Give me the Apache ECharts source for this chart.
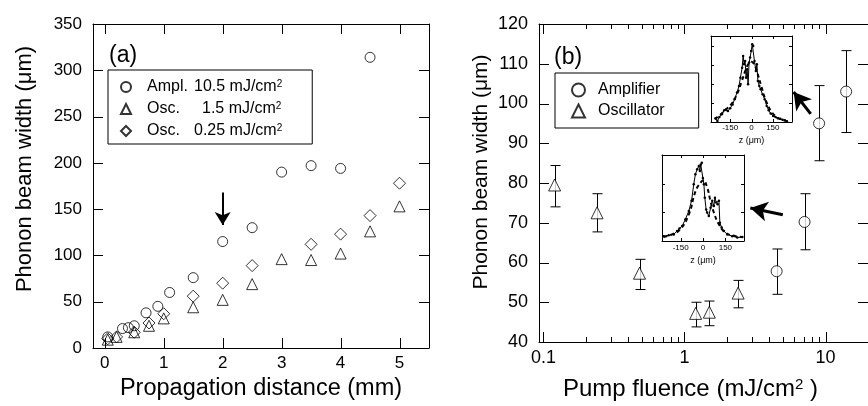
<!DOCTYPE html>
<html><head><meta charset="utf-8">
<script src="https://cdn.jsdelivr.net/npm/echarts@6/dist/echarts.min.js"></script>
<style>html,body{margin:0;padding:0;background:#fff}#c{width:868px;height:406px}</style>
</head><body><div id="c"></div>
<script>
// ---------- Panel (a) data ----------
const ampX = [0.05,0.3,0.4,0.5,0.7,0.9,1.1,1.5,2,2.5,3,3.5,4,4.5];
const ampY = [12,21,22,24,38,45,60,76,115,130,190,197,194,314];
const osc15X = [0.05,0.2,0.5,0.75,1,1.5,2,2.5,3,3.5,4,4.5,5];
const osc15Y = [9,12,17,24,32,44,52,69,96,95,102,126,153];
const osc025X = [0.05,0.2,0.5,0.75,1,1.5,2,2.5,3.5,4,4.5,5];
const osc025Y = [10,12,17,27,37,56,70,89,112,123,143,178];
const aXTicks = [0,1,2,3,4,5];
const aYTicks = [50,100,150,200,250,300];
const arrowA = [2, 168, 133];

// ---------- Panel (b) data ----------
const oscF  = [0.12,0.24,0.48,1.2,1.5,2.4];
const oscW  = [79.5,72.5,57.3,47.2,47.5,52.3];
const oscLo = [74,67.7,53.2,43.8,44.1,48.6];
const oscHi = [84.4,77.3,60.8,50,50.3,55.5];
const ampF  = [4.5,7.1,9,14];
const ampW  = [57.8,70.2,95,103];
const ampLo = [52,63.2,85.6,92.7];
const ampHi = [63.4,77.3,104.5,113.3];
const bMajor = [0.1,1,10];
const bMinor = [0.2,0.3,0.4,0.5,0.6,0.7,0.8,0.9,2,3,4,5,6,7,8,9];
const bYTicks = [50,60,70,80,90,100,110];
const arrowB1 = [[7.85,97.4],[5.94,102.9]];
const arrowB2 = [[4.98,72.0],[2.93,73.7]];

// ---------- Inset 1 (upper) ----------
const in1X = [-252,-240,-226,-209,-192,-180,-166,-150,-133,-119,-102,-88,-78,-66,-59,-52,-45,-38,-31,-24,-17,-10,-2,5,12,21,31,38,45,55,64,78,93,107,121,135,152,169,185,202,218,235,249];
const in1Y = [0.19,0.05,0.26,0.40,0.61,0.65,0.58,0.72,0.92,1.19,1.54,1.88,2.32,2.84,3.46,3.02,3.19,2.32,2.76,1.97,3.11,3.37,3.72,4.07,3.98,3.19,2.67,3.02,2.15,1.88,1.71,1.45,1.19,0.84,0.61,0.44,0.31,0.26,0.19,0.17,0.12,0.09,0.03];
const fit1X = [-260,-220,-180,-140,-100,-70,-40,-20,0,20,40,70,100,140,180,220,260];
const fit1Y = [0.15,0.38,0.65,0.95,1.5,2.1,2.75,3.05,3.15,3.0,2.6,1.85,1.15,0.55,0.25,0.1,0.05];
const in1YTicks = [1,2,3,4];

// ---------- Inset 2 (lower) ----------
const in2X = [-264,-230,-196,-174,-158,-140,-118,-95,-77,-62,-51,-39,-28,-21,-15,-8,-1,6,12,21,28,39,51,62,73,80,89,98,107,113,125,140,163,196,230,264];
const in2Y = [0.17,0.2,0.23,0.35,0.44,0.52,0.76,1.05,1.40,1.98,2.33,2.5,2.62,2.44,2.67,2.73,2.2,1.98,1.51,1.1,0.99,0.87,1.16,1.40,1.22,1.51,1.34,1.28,1.40,0.64,0.47,0.35,0.23,0.17,0.12,0.14];
const fit2X = [-264,-208,-152,-95,-50,-17,1,28,50,73,107,152,219,268];
const fit2Y = [0.14,0.23,0.41,0.93,1.74,2.03,2.12,1.86,1.40,0.99,0.58,0.29,0.17,0.14];
const in2YTicks = [1,2];
const insetTicks = [-150,0,150];

const FONT = 'Liberation Sans, Arial, Helvetica, sans-serif';
const zip = (a,b) => a.map((v,i)=>[v,b[i]]);

const legendNamesA = {
  amp: '{n|Ampl.}10.5 mJ/cm{s|2}',
  osc15: '{m|Osc.}1.5 mJ/cm{s|2}',
  osc025: '{n|Osc.}0.25 mJ/cm{s|2}'
};

function frameAxis(base) {
  return Object.assign({
    axisLine:{show:true,onZero:false,lineStyle:{color:'#000',width:1}},
    axisTick:{show:false},
    splitLine:{show:false}
  }, base);
}

const xAxes = [
  frameAxis({type:'value',gridIndex:0,min:-0.2,max:5.5,position:'bottom',
    axisLabel:{customValues:aXTicks,margin:7,fontSize:17,color:'#000',fontFamily:FONT},
    name:'Propagation distance (mm)',nameLocation:'middle',nameGap:28,
    nameTextStyle:{fontSize:23.5,color:'#000',fontFamily:FONT}}),
  frameAxis({type:'value',gridIndex:0,min:-0.2,max:5.5,position:'top',axisLabel:{show:false}}),
  frameAxis({type:'log',gridIndex:1,min:0.093,max:20,position:'bottom',
    axisLabel:{customValues:bMajor,margin:7,fontSize:18,color:'#000',fontFamily:FONT,
      formatter:v=>String(+v.toPrecision(3))},
    name:'Pump fluence (mJ/cm{s|2} )',nameLocation:'middle',nameGap:35,
    nameTextStyle:{fontSize:24,color:'#000',fontFamily:FONT,padding:[0,26,0,0],
      rich:{s:{fontSize:15,verticalAlign:'top',lineHeight:13,color:'#000',fontFamily:FONT}}}}),
  frameAxis({type:'log',gridIndex:1,min:0.093,max:20,position:'top',axisLabel:{show:false}}),
  frameAxis({type:'value',gridIndex:2,min:-285,max:285,position:'bottom',
    axisLabel:{customValues:insetTicks,margin:2,fontSize:8,color:'#000',fontFamily:FONT},
    name:'z (\u03bcm)',nameLocation:'middle',nameGap:14,
    nameTextStyle:{fontSize:9,color:'#000',fontFamily:FONT}}),
  frameAxis({type:'value',gridIndex:2,min:-285,max:285,position:'top',axisLabel:{show:false}}),
  frameAxis({type:'value',gridIndex:3,min:-275,max:275,position:'bottom',
    axisLabel:{customValues:insetTicks,margin:3,fontSize:8,color:'#000',fontFamily:FONT},
    name:'z (\u03bcm)',nameLocation:'middle',nameGap:15,
    nameTextStyle:{fontSize:9,color:'#000',fontFamily:FONT}}),
  frameAxis({type:'value',gridIndex:3,min:-275,max:275,position:'top',axisLabel:{show:false}})
];

const yAxes = [
  frameAxis({type:'value',gridIndex:0,min:0,max:350,interval:50,position:'left',
    axisLabel:{margin:11,fontSize:17,color:'#000',fontFamily:FONT},
    name:'Phonon beam width (\u03bcm)',nameLocation:'middle',nameGap:57,
    nameTextStyle:{fontSize:22,color:'#000',fontFamily:FONT,padding:[0,0,0,34]}}),
  frameAxis({type:'value',gridIndex:0,min:0,max:350,interval:50,position:'right',axisLabel:{show:false}}),
  frameAxis({type:'value',gridIndex:1,min:40,max:120,interval:10,position:'left',
    axisLabel:{margin:11,fontSize:18,color:'#000',fontFamily:FONT},
    name:'Phonon beam width (\u03bcm)',nameLocation:'middle',nameGap:47,
    nameTextStyle:{fontSize:21,color:'#000',fontFamily:FONT,padding:[0,0,0,22]}}),
  frameAxis({type:'value',gridIndex:1,min:40,max:120,interval:10,position:'right',axisLabel:{show:false}}),
  frameAxis({type:'value',gridIndex:2,min:0,max:4.5,interval:1,position:'left',axisLabel:{show:false}}),
  frameAxis({type:'value',gridIndex:2,min:0,max:4.5,interval:1,position:'right',axisLabel:{show:false}}),
  frameAxis({type:'value',gridIndex:3,min:0,max:3,interval:1,position:'left',axisLabel:{show:false}}),
  frameAxis({type:'value',gridIndex:3,min:0,max:3,interval:1,position:'right',axisLabel:{show:false}})
];

const hollow = {color:'transparent',borderColor:'#000',borderWidth:1};
const whiteFill = {color:'#fff',borderColor:'#000',borderWidth:1};

function errorBar(f, lo, hi) {
  return {
    type:'custom', xAxisIndex:2, yAxisIndex:2, z:1, silent:true,
    data: f.map((v,i)=>[v, lo[i], hi[i]]),
    encode:{x:0,y:[1,2]},
    renderItem:(params, api) => {
      const x = Math.round(api.coord([api.value(0), 80])[0]) + 0.5;
      const y1 = api.coord([api.value(0), api.value(1)])[1];
      const y2 = api.coord([api.value(0), api.value(2)])[1];
      const hw = 5;
      const st = {stroke:'#000',lineWidth:1};
      return {type:'group',children:[
        {type:'line',shape:{x1:x,y1:y1,x2:x,y2:y2},style:st},
        {type:'line',shape:{x1:x-hw,y1:y1,x2:x+hw,y2:y1},style:st},
        {type:'line',shape:{x1:x-hw,y1:y2,x2:x+hw,y2:y2},style:st}
      ]};
    }
  };
}

const arrowLine = (pairs, w, size) => ({
  silent:true, symbol:['none','arrow'], symbolSize:size,
  label:{show:false}, emphasis:{disabled:true},
  lineStyle:{color:'#000',width:w,type:'solid'},
  itemStyle:{color:'#000'},
  data: pairs.map(p => [{coord:p[0]},{coord:p[1]}])
});

const option = {
  animation:false,
  backgroundColor:'#fff',
  title:[
    {text:'(a)',left:109,top:44,textStyle:{fontSize:23,fontWeight:'normal',color:'#000',fontFamily:FONT},padding:0},
    {text:'(b)',left:554,top:46,textStyle:{fontSize:23,fontWeight:'normal',color:'#000',fontFamily:FONT},padding:0}
  ],
  grid:[
    {left:93,top:24,width:336,height:324},
    {left:539,top:24,width:336,height:323},
    {left:711,top:36,width:81,height:86},
    {left:662,top:155,width:82,height:86}
  ],
  legend:[
    {left:108,top:70,orient:'vertical',data:['amp','osc15','osc025'],
      borderColor:'#000',borderWidth:1,padding:[9,30,5,12],itemGap:6,
      itemWidth:10,itemHeight:10,selectedMode:false,
      formatter:n=>legendNamesA[n],
      textStyle:{fontSize:16,lineHeight:16,color:'#000',fontFamily:FONT,padding:[0,0,0,11],
        rich:{n:{width:47,fontSize:16,lineHeight:16,color:'#000',fontFamily:FONT},
              m:{width:55,fontSize:16,lineHeight:16,color:'#000',fontFamily:FONT},
              s:{fontSize:10,lineHeight:10,verticalAlign:'top',color:'#000',fontFamily:FONT}}}},
    {left:555,top:73,orient:'vertical',data:['Amplifier','Oscillator'],
      borderColor:'#000',borderWidth:1,padding:[9,34,9,16],itemGap:5,
      itemWidth:13,itemHeight:13,selectedMode:false,
      textStyle:{fontSize:16,lineHeight:16,color:'#000',fontFamily:FONT,padding:[0,0,0,8]}}
  ],
  xAxis:xAxes,
  yAxis:yAxes,
  series:[
    {name:'amp',type:'scatter',xAxisIndex:0,yAxisIndex:0,symbol:'circle',symbolSize:10,
      itemStyle:hollow,data:zip(ampX,ampY),
      markLine:arrowLine([[[arrowA[0],arrowA[1]],[arrowA[0],arrowA[2]]]],2,[12,13])},
    {name:'osc15',type:'scatter',xAxisIndex:0,yAxisIndex:0,symbol:'triangle',symbolSize:11,
      itemStyle:hollow,data:zip(osc15X,osc15Y)},
    {name:'osc025',type:'scatter',xAxisIndex:0,yAxisIndex:0,symbol:'diamond',symbolSize:12,
      itemStyle:hollow,data:zip(osc025X,osc025Y)},
    errorBar(oscF,oscLo,oscHi),
    errorBar(ampF,ampLo,ampHi),
    {name:'Amplifier',type:'scatter',xAxisIndex:2,yAxisIndex:2,z:3,symbol:'circle',symbolSize:11,
      itemStyle:whiteFill,data:zip(ampF,ampW),
      markLine:arrowLine([arrowB1,arrowB2],3,[15,17])},
    {name:'Oscillator',type:'scatter',xAxisIndex:2,yAxisIndex:2,z:3,symbol:'triangle',symbolSize:12,
      itemStyle:whiteFill,data:zip(oscF,oscW)},
    {type:'line',xAxisIndex:4,yAxisIndex:4,data:zip(in1X,in1Y),symbol:'circle',symbolSize:2.5,
      showSymbol:true,itemStyle:{color:'#000'},lineStyle:{color:'#000',width:1},silent:true},
    {type:'line',xAxisIndex:4,yAxisIndex:4,data:zip(fit1X,fit1Y),symbol:'none',smooth:true,
      lineStyle:{color:'#000',width:2,type:[4,3]},silent:true},
    {type:'line',xAxisIndex:6,yAxisIndex:6,data:zip(in2X,in2Y),symbol:'circle',symbolSize:2.5,
      showSymbol:true,itemStyle:{color:'#000'},lineStyle:{color:'#000',width:1},silent:true},
    {type:'line',xAxisIndex:6,yAxisIndex:6,data:zip(fit2X,fit2Y),symbol:'none',smooth:true,
      lineStyle:{color:'#000',width:2,type:[4,3]},silent:true}
  ]
};
const chart = echarts.init(document.getElementById('c'), null, {renderer:'canvas'});
chart.setOption(option);

// Inward tick marks on all four sides, positioned through the axes' scales (convertToPixel)
// [xAxisIndex, yAxisIndex, xTicks(value,len), yTicks(value,len), [xMin,xMax,yMin,yMax]]
const tickSpecs = [
  [0,0,aXTicks.map(v=>[v,10]),aYTicks.map(v=>[v,10]),[-0.2,5.5,0,350]],
  [2,2,bMajor.map(v=>[v,10]).concat(bMinor.map(v=>[v,5])),bYTicks.map(v=>[v,10]),[0.093,20,40,120]],
  [4,4,insetTicks.map(v=>[v,3]),in1YTicks.map(v=>[v,3]),[-285,285,0,4.5]],
  [6,6,insetTicks.map(v=>[v,3]),in2YTicks.map(v=>[v,3]),[-275,275,0,3]]
];
const tickEls = [];
const st = {stroke:'#000',lineWidth:1};
tickSpecs.forEach(([xi, yi, xt, yt, e]) => {
  const f = {xAxisIndex:xi, yAxisIndex:yi};
  xt.forEach(([v,len]) => {
    const pb = chart.convertToPixel(f, [v, e[2]]);
    const pt = chart.convertToPixel(f, [v, e[3]]);
    if (!pb || !pt) return;
    const x = Math.round(pb[0]) + 0.5;
    tickEls.push({type:'line',silent:true,z:100,shape:{x1:x,y1:pb[1],x2:x,y2:pb[1]-len},style:st});
    tickEls.push({type:'line',silent:true,z:100,shape:{x1:x,y1:pt[1],x2:x,y2:pt[1]+len},style:st});
  });
  yt.forEach(([v,len]) => {
    const pl = chart.convertToPixel(f, [e[0], v]);
    const pr = chart.convertToPixel(f, [e[1], v]);
    if (!pl || !pr) return;
    const y = Math.round(pl[1]) + 0.5;
    tickEls.push({type:'line',silent:true,z:100,shape:{x1:pl[0],y1:y,x2:pl[0]+len,y2:y},style:st});
    tickEls.push({type:'line',silent:true,z:100,shape:{x1:pr[0],y1:y,x2:pr[0]-len,y2:y},style:st});
  });
});
chart.setOption({graphic:{elements:tickEls}});
</script>
</body></html>
